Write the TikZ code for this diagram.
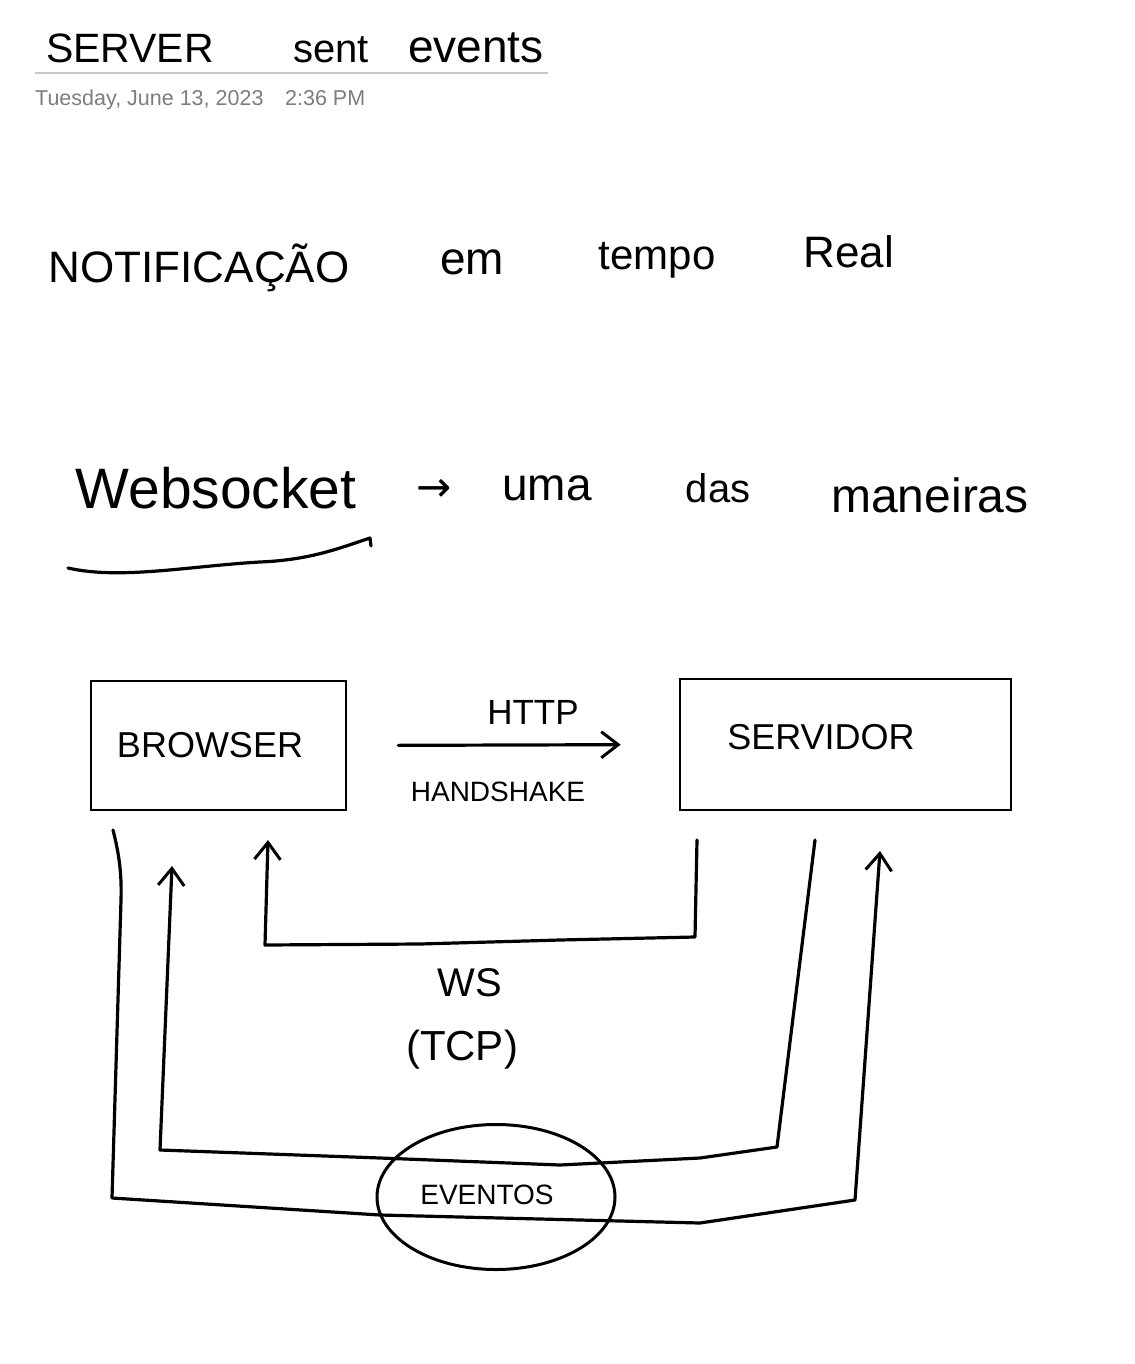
\documentclass[tikz,border=0pt]{standalone}
\usepackage{fontspec}
\setmainfont{Liberation Sans}
\newfontfamily\dejavu{DejaVu Sans}
\usetikzlibrary{arrows.meta,shapes.geometric}
\definecolor{dategray}{RGB}{125,125,125}
\definecolor{rulegray}{RGB}{200,200,200}
\begin{document}
\begin{tikzpicture}[x=1pt,y=-1pt,
  hand/.style={inner sep=0pt, text=black},
  box/.style={draw, line width=2.6pt, inner sep=0pt},
  wire/.style={line width=3.2pt, line join=round, line cap=round},
  tip/.style={-{Straight Barb[length=17pt,width=26pt,line width=3pt]}},
  datefont/.style={inner sep=0pt, text=dategray, font=\fontsize{21.5}{24}\selectfont}
]
\fill[white] (0,0) rectangle (1134,1364);
\useasboundingbox (0,0) rectangle (1134,1364);

% title
\node[hand, font=\fontsize{41}{46}\selectfont] (t1) at (130,48) {SERVER};
\node[hand, font=\fontsize{40}{46}\selectfont] (t2) at (331,50) {sent};
\node[hand, font=\fontsize{46}{52}\selectfont] (t3) at (476,48) {events};
\draw[rulegray, line width=1.5pt] (35,73) -- (548,73);
\node[datefont, anchor=base west] (date) at (35,106) {Tuesday, June 13, 2023};
\node[datefont, anchor=base west] (time) at (285,106) {2:36 PM};

% notificacao line
\node[hand, font=\fontsize{44}{50}\selectfont] (n1) at (199,268) {NOTIFICAÇÃO};
\node[hand, font=\fontsize{46}{52}\selectfont] (n2) at (472,262) {em};
\node[hand, font=\fontsize{42}{48}\selectfont] (n3) at (657,260) {tempo};
\node[hand, font=\fontsize{44}{50}\selectfont] (n4) at (849,252) {Real};

% websocket line
\node[hand, font=\fontsize{57}{64}\selectfont] (w1) at (216,488) {Websocket};
\node[hand, font=\dejavu\fontsize{42}{46}\selectfont] (w2) at (434,490) {→};
\node[hand, font=\fontsize{46}{52}\selectfont] (w3) at (547,488) {uma};
\node[hand, font=\fontsize{40}{46}\selectfont] (w4) at (718,488) {das};
\node[hand, font=\fontsize{48}{54}\selectfont] (w5) at (930,495) {maneiras};
\draw[wire] (68,568) .. controls (120,580) and (190,566) .. (260,562)
  .. controls (310,560) and (340,548) .. (370,538) -- (371,546);

% boxes
\node[box, minimum width=255pt, minimum height=129pt] (browser) at (218.5,745.5) {};
\node[box, minimum width=331pt, minimum height=131pt] (servidor) at (845.5,744.5) {};
\node[hand, font=\fontsize{36}{40}\selectfont] (btxt) at (210,745) {BROWSER};
\node[hand, font=\fontsize{36}{40}\selectfont] (stxt) at (821,737) {SERVIDOR};

% handshake
\draw[wire, tip, shorten <=51pt, shorten >=58pt] (browser.east) -- (servidor.west);
\node[hand, font=\fontsize{35}{40}\selectfont] (http) at (533,712) {HTTP};
\node[hand, font=\fontsize{28}{32}\selectfont] (hs) at (498,792) {HANDSHAKE};

% loop coordinates
\coordinate (wsA) at (697,840);
\coordinate (wsB) at (268,840);
\coordinate (inA) at (815,840);
\coordinate (inB) at (172,866);
\coordinate (outA) at (113,830);
\coordinate (outB) at (880,851);

% WS loop: servidor -> browser
\draw[wire, tip] (wsA) -- (695,937) -- (560,940) -- (420,944) -- (265,945) -- (wsB);
% inner loop: servidor -> browser
\draw[wire, tip] (inA) -- (777,1147) -- (700,1158) -- (560,1165) -- (380,1158) -- (160,1150) -- (inB);
% outer loop: browser -> servidor
\draw[wire, tip] (outA) .. controls (118,850) and (122,870) .. (121,900) -- (112,1198) -- (380,1215) -- (700,1223) -- (855,1200) -- (outB);

\node[hand, font=\fontsize{40}{46}\selectfont] (ws) at (470,983) {WS};
\node[hand, font=\fontsize{42}{48}\selectfont] (tcp) at (462,1050) {(TCP)};

% eventos
\node[ellipse, draw, line width=3pt, minimum width=238pt, minimum height=145pt, inner sep=0pt] (eventos) at (496,1197) {};
\node[hand, font=\fontsize{28}{32}\selectfont] (evtxt) at (487,1195) {EVENTOS};
\end{tikzpicture}
\end{document}
